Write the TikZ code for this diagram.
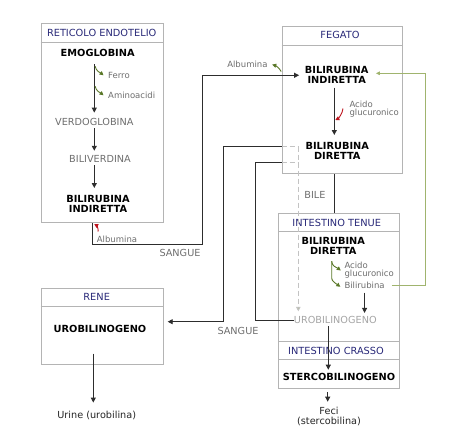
\documentclass[tikz,border=0pt]{standalone}
\usepackage{fontspec}
\setmainfont{DejaVu Sans}
\usetikzlibrary{arrows.meta,calc}
\definecolor{boxc}{RGB}{180,180,180}
\definecolor{headc}{RGB}{40,40,120}
\definecolor{linec}{RGB}{45,45,45}
\definecolor{gtc}{RGB}{110,110,110}
\definecolor{lgtc}{RGB}{165,165,165}
\definecolor{greenc}{RGB}{90,120,40}
\definecolor{glinec}{RGB}{160,180,110}
\definecolor{redc}{RGB}{190,20,30}
\definecolor{dashc}{RGB}{195,195,195}
\definecolor{dheadc}{RGB}{185,192,160}
\begin{document}
\begin{tikzpicture}[x=1pt,y=-1pt,
  box/.style={draw=boxc, line width=1pt, inner sep=0pt, anchor=north west},
  boxl/.style={draw=boxc, line width=1pt},
  hd/.style={text=headc, font=\fontsize{9.8}{10}\selectfont, inner sep=0pt},
  bt/.style={font=\fontsize{9.8}{10}\selectfont\bfseries, inner sep=0pt, align=center},
  rt/.style={font=\fontsize{9.7}{10}\selectfont, inner sep=0pt, align=center, text=gtc},
  sm/.style={font=\fontsize{8.5}{8.7}\selectfont, text=gtc, inner sep=0pt, align=left},
  arr/.style={draw=linec, line width=0.9pt, -{Triangle[length=5pt,width=5pt]}},
  conn/.style={draw=linec, line width=0.9pt},
  garr/.style={draw=greenc, line width=0.9pt, -{Triangle[length=4pt,width=4pt]}},
  rarr/.style={draw=redc, line width=0.9pt, -{Triangle[length=4pt,width=4pt]}},
  gline/.style={draw=glinec, line width=0.9pt, -{Triangle[length=4pt,width=3.5pt]}},
  dline/.style={draw=dashc, line width=0.9pt, dash pattern=on 5pt off 3pt}
]
\useasboundingbox (0,0) rectangle (474,439);
\fill[white] (0,0) rectangle (474,439);

% boxes
\node[box, minimum width=122.6pt, minimum height=199pt] (ret) at (40.7,23.3) {};
\draw[boxl] ([yshift=-19pt]ret.north west) -- ([yshift=-19pt]ret.north east);
\node[box, minimum width=120.6pt, minimum height=147.6pt] (feg) at (281.7,25.7) {};
\draw[boxl] ([yshift=-19.3pt]feg.north west) -- ([yshift=-19.3pt]feg.north east);
\node[box, minimum width=121pt, minimum height=175pt] (int) at (278.3,213.3) {};
\draw[boxl] ([yshift=-17.7pt]int.north west) -- ([yshift=-17.7pt]int.north east);
\draw[boxl] ([yshift=-128.4pt]int.north west) -- ([yshift=-128.4pt]int.north east);
\draw[boxl] ([yshift=-146pt]int.north west) -- ([yshift=-146pt]int.north east);
\node[box, minimum width=122pt, minimum height=75.7pt] (ren) at (40.7,288.3) {};
\draw[boxl] ([yshift=-17.7pt]ren.north west) -- ([yshift=-17.7pt]ren.north east);

% Reticolo endotelio
\node[hd] (reth) at (101.7,33.3) {RETICOLO ENDOTELIO};
\node[bt] (emo) at (97.7,53.3) {EMOGLOBINA};
\node[sm, anchor=west] (ferro) at (108,75.3) {Ferro};
\node[sm, anchor=west] (amino) at (108,95.3) {Aminoacidi};
\node[rt] (verdo) at (94.3,121.7) {VERDOGLOBINA};
\node[rt] (bilv) at (100,159) {BILIVERDINA};
\node[bt, anchor=north] (bri1) at (98,195.5) {BILIRUBINA\\INDIRETTA};
\node[sm, anchor=west] (alb1) at (96.7,239) {Albumina};
\node[rt] (sang1) at (180,253.3) {SANGUE};

% Fegato
\node[hd] (fegh) at (340,35) {FEGATO};
\node[bt, anchor=north] (bri2) at (336.7,66.5) {BILIRUBINA\\INDIRETTA};
\node[sm, anchor=north west] (acido1) at (349.3,100.5) {Acido\\glucuronico};
\node[bt, anchor=north] (brd1) at (337.3,142.2) {BILIRUBINA\\DIRETTA};
\node[sm, anchor=east] (alb2) at (267.7,64) {Albumina};
\node[rt] (bile) at (315,195) {BILE};

% Intestino
\node[hd] (inth) at (336.7,222.7) {INTESTINO TENUE};
\node[bt, anchor=north] (brd2) at (333.3,237.2) {BILIRUBINA\\DIRETTA};
\node[sm, anchor=north west] (acido2) at (344.3,261.5) {Acido\\glucuronico};
\node[sm, anchor=west] (bilr) at (344.3,285.3) {Bilirubina};
\node[rt, text=lgtc] (urob2) at (335.3,320) {UROBILINOGENO};
\node[hd] (crh) at (336,350.7) {INTESTINO CRASSO};
\node[bt] (sterco) at (339,376.7) {STERCOBILINOGENO};
\node[rt, text=black!85, anchor=north] (feci) at (329,407) {Feci\\(stercobilina)};

% Rene
\node[hd] (reneh) at (96.7,297.3) {RENE};
\node[bt] (urob1) at (100,329.3) {UROBILINOGENO};
\node[rt, text=black!85] (urine) at (96.7,415) {Urine (urobilina)};
\node[rt] (sang2) at (238,330.7) {SANGUE};

% coordinates for connector bends
\coordinate (s1) at (92.7,244.3);
\coordinate (s2) at (202.7,244.3);
\coordinate (c2) at (223.3,146.7);
\coordinate (c3) at (223.3,321.7);
\coordinate (c4) at (255,162.7);
\coordinate (d1) at (298.3,146.7);
\coordinate (d2) at (298.3,162.7);
\coordinate (g1) at (425,73.3);

% reticolo arrows
\draw[arr, shorten <=7.1pt, shorten >=5.2pt] (emo.south -| verdo.north) -- (verdo.north);
\draw[arr, shorten <=2.5pt, shorten >=4.5pt] (verdo.south) -- (verdo.south |- bilv.north);
\draw[arr, shorten <=2.5pt, shorten >=7.5pt] (bilv.south -| verdo.south) -- (verdo.south |- bri1.north);
\draw[garr] ($(verdo.north |- ferro.west)+(0.8,-9)$) .. controls +(1,5) and +(-3,-2.5) .. ($(ferro.west)+(-4.5,0)$);
\draw[garr] ($(verdo.north |- amino.west)+(0.8,-9)$) .. controls +(1,5) and +(-3,-2.5) .. ($(amino.west)+(-4.5,0)$);
\draw[rarr] ($(alb1.west)+(1.5,-7.5)$) .. controls +(0,-4) and +(2.5,1.5) .. ($(alb1.west)+(-2.5,-15)$);

% sangue from reticolo to fegato
\draw[arr, shorten >=5.7pt] (ret.south -| s1) -- (s1) -- (s2) |- (bri2.west);
\draw[garr] ($(alb2.east)+(13.5,7.5)$) .. controls +(-2,-4) and +(3,1) .. ($(alb2.east)+(4.5,0.5)$);

% fegato arrows
\draw[arr, shorten <=3.7pt, shorten >=7.2pt] ([xshift=-2.4pt]bri2.south) -- ([xshift=-2.4pt]bri2.south |- brd1.north);
\draw[rarr] ($(acido1.north west)+(-6.3,8)$) .. controls +(-0.5,5) and +(3,-1.5) .. ($(acido1.north west)+(-14,19.5)$);

% bile
\draw[conn] ([xshift=-8.3pt]feg.south) -- ([xshift=-8.3pt]feg.south |- int.north);

% dashed path
\draw[dline] (feg.west |- d1) -- (d1);
\draw[dline] (feg.west |- d2) -- (d2);
\draw[dline, -{Triangle[length=4.5pt,width=4.5pt,fill=dheadc]}, shorten >=4.8pt] (d1) -- (d1 |- urob2.north);

% sangue from fegato to rene
\draw[arr, shorten >=4pt] (feg.west |- c2) -- (c2) -- (c3) -- (c3 -| ren.east);
% urobilinogeno to fegato
\draw[conn] (urob2.west) -| (c4) -- (c4 -| feg.west);

% intestino arrows
\draw[garr] ($(brd2.south)+(-1.6,6.5)$) .. controls +(0,5) and +(-4,-3) .. ($(acido2.north west)+(-3.5,9)$);
\draw[garr] ($(brd2.south)+(-1.6,6.5)$) -- ++(0,17) .. controls +(0,3) and +(-4,-3) .. ($(bilr.west)+(-4,1.5)$);
\draw[arr, shorten <=3.9pt, shorten >=3.2pt] (bilr.south) -- (bilr.south |- urob2.north);
\draw[gline, shorten <=7pt, shorten >=7.3pt] (bilr.east) -| (g1) -- (g1 -| bri2.east);
\draw[arr, shorten <=2.5pt, shorten >=3.1pt] ([xshift=-7pt]urob2.south) -- ([xshift=-7pt]urob2.south |- sterco.north);
\draw[arr, shorten <=11.4pt, shorten >=5.3pt] ([xshift=-1.3pt]feci.north |- sterco.south) -- ([xshift=-1.3pt]feci.north);

% rene arrow
\draw[arr, shorten <=20.4pt, shorten >=7.9pt] ([xshift=-6.7pt]urob1.south) -- ([xshift=-6.7pt]urob1.south |- urine.north);
\end{tikzpicture}
\end{document}
